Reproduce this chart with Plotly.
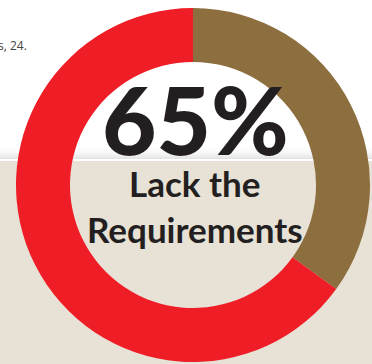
import plotly.graph_objects as go

labels = ["Meet the Requirements", "Lack the Requirements"]
values = [35, 65]
colors = ["#8D6E3F", "#EE1D26"]

W, H = 372, 364

def fy(py):
    return (H - py) / H

def fx(px):
    return px / W

fig = go.Figure()
fig.add_trace(go.Pie(
    labels=labels, values=values, sort=False, direction="clockwise", rotation=0,
    hole=0.695, marker=dict(colors=colors, line=dict(width=0)),
    textinfo="none", hoverinfo="label+percent", showlegend=False,
    domain=dict(x=[fx(16), fx(370)], y=[fy(362), fy(8)]),
))

shapes = [dict(type="rect", xref="paper", yref="paper", x0=0, x1=1, y0=0, y1=fy(161),
               fillcolor="#E8E1D5", line=dict(width=0), layer="below")]
# shadow gradient above the beige band
n = 12
for i in range(n):
    y_top = 147 + i
    op = 0.02 + 0.2 * (i / (n - 1)) ** 2
    shapes.append(dict(type="rect", xref="paper", yref="paper", x0=0, x1=1,
                       y0=fy(y_top + 1), y1=fy(y_top), fillcolor="#808080",
                       opacity=op, line=dict(width=0), layer="below"))

annotations = [
    dict(text="65%", x=fx(195), y=fy(119), xref="paper", yref="paper",
         xanchor="center", yanchor="middle",
         showarrow=False, font=dict(family="Lato", size=94, weight=900, color="#231F20")),
    dict(text="<b>Lack the</b>", x=fx(194), y=fy(183), xref="paper", yref="paper",
         xanchor="center", yanchor="middle",
         showarrow=False, font=dict(family="Lato", size=35, color="#231F20")),
    dict(text="<b>Requirements</b>", x=fx(195), y=fy(229), xref="paper", yref="paper",
         xanchor="center", yanchor="middle",
         showarrow=False, font=dict(family="Lato", size=35, color="#231F20")),
    dict(text="s, 24.", x=fx(29), y=fy(45), xref="paper", yref="paper",
         xanchor="right", yanchor="middle",
         showarrow=False, font=dict(family="Open Sans", size=12, color="#444444")),
]

fig.update_layout(
    width=W, height=H, margin=dict(l=0, r=0, t=0, b=0),
    paper_bgcolor="white", plot_bgcolor="white",
    shapes=shapes, annotations=annotations,
)
fig.write_html("out.html")
